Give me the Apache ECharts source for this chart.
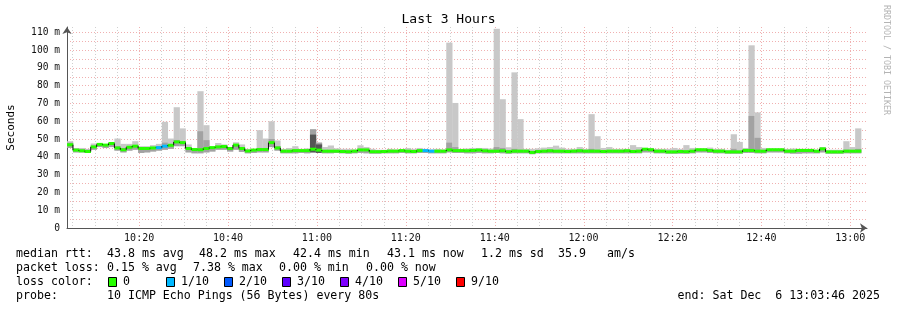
<!DOCTYPE html>
<html><head><meta charset="utf-8">
<script src="https://cdn.jsdelivr.net/npm/echarts@6/dist/echarts.min.js"></script>
<style>html,body{margin:0;padding:0;background:#fff}#c{width:897px;height:310px}</style>
</head><body><div id="c"></div>
<script>
// ---- data ----
const startTime = '10:03:46';
const stepSeconds = 80;
const spanSeconds = 10800;
const tickLabels = ['10:20','10:40','11:00','11:20','11:40','12:00','12:20','12:40','13:00'];
const yTickValues = [0,10,20,30,40,50,60,70,80,90,100,110];

const median = [
 46.8,43.8,43.4,43.0,45.6,47.0,46.6,47.5,45.0,44.0,
 45.4,46.0,44.7,44.7,45.0,45.2,46.0,46.5,48.4,48.0,
 44.7,44.1,44.0,44.7,45.2,45.6,45.8,44.7,46.6,44.7,
 43.3,43.8,44.1,44.1,48.0,45.0,43.2,43.2,43.5,43.5,
 43.5,44.3,43.8,43.2,43.2,43.2,43.0,42.9,43.2,43.9,
 43.9,42.9,42.9,43.0,43.2,43.2,43.5,43.2,43.0,43.5,
 43.5,43.2,43.2,43.2,43.9,43.5,43.5,43.4,43.6,43.8,
 43.4,43.2,43.2,43.4,42.9,43.2,43.2,43.2,42.5,43.0,
 43.2,43.4,43.2,43.2,43.0,43.2,43.4,43.2,43.2,43.2,
 43.0,43.2,43.2,43.2,43.4,43.0,43.2,44.3,44.0,43.2,
 43.2,42.8,42.8,43.0,42.9,43.2,44.0,44.0,43.6,43.2,
 43.2,42.8,42.8,42.8,43.6,43.6,43.2,43.2,44.0,44.0,
 44.0,43.2,43.2,43.6,43.6,43.6,43.2,44.5,42.8,42.8,
 42.8,43.2,43.2,43.2];

const smokeMax = [
 48.8,45.0,45.0,44.5,47.5,47.5,47.0,48.0,50.3,47.3,
 47.3,48.8,46.0,46.0,46.6,47.3,59.7,50.3,67.9,56.0,
 47.0,45.0,76.9,57.8,45.5,47.8,47.0,45.5,48.2,47.0,
 44.5,44.5,55.0,50.3,60.0,49.2,44.5,45.0,46.0,44.5,
 44.8,55.5,48.0,45.5,46.4,44.8,44.5,44.5,44.2,46.5,
 45.5,44.5,44.0,44.0,44.5,44.2,44.2,45.0,44.5,45.0,
 44.5,44.2,44.5,44.2,104.2,70.3,44.5,44.7,45.0,45.0,
 45.0,44.7,112.0,72.4,45.4,87.5,61.2,44.5,44.5,44.8,
 45.2,45.5,46.3,45.2,44.5,44.5,45.5,44.5,64.0,51.6,
 45.0,45.5,44.5,44.5,44.5,46.6,45.5,45.0,45.0,44.5,
 44.5,44.5,45.0,44.5,46.6,45.0,44.5,44.5,45.2,44.5,
 44.5,44.0,52.7,48.4,45.0,102.7,65.0,45.0,44.5,44.5,
 44.5,44.5,44.7,44.5,44.5,44.5,44.0,45.5,44.0,44.0,
 44.0,48.8,45.5,56.0];

const smokeMin = [
 45.0,42.5,42.5,42.2,44.0,45.5,45.0,45.5,43.5,42.5,
 43.5,44.0,42.2,42.5,43.0,43.5,44.0,44.5,46.0,46.0,
 42.5,42.0,42.0,42.5,43.0,44.0,44.0,43.0,44.0,42.8,
 42.0,42.2,42.5,42.5,45.5,43.5,42.0,42.0,42.0,42.2,
 42.0,42.5,42.2,42.0,42.0,42.2,42.0,41.8,42.0,42.2,
 42.0,41.8,41.8,42.0,42.0,42.0,42.2,42.0,42.0,42.2,
 42.2,42.0,42.0,42.0,42.5,42.2,42.2,42.0,42.0,42.2,
 42.0,42.0,42.2,42.0,41.8,42.0,42.0,42.0,41.5,42.0,
 42.0,42.0,42.0,42.0,42.0,42.0,42.0,42.0,42.0,42.0,
 42.0,42.0,42.0,42.0,42.0,42.0,42.0,42.5,42.5,42.0,
 42.0,41.8,41.8,41.8,41.8,42.0,42.5,42.5,42.2,42.0,
 42.0,41.8,41.8,41.8,42.2,42.2,42.0,42.0,42.5,42.5,
 42.5,42.0,41.8,41.8,42.0,42.0,42.0,42.5,41.8,41.8,
 41.8,42.0,42.0,42.0];

const smokeMid = [
 48.0,44.5,44.2,44.0,46.2,47.3,47.0,48.0,46.0,45.0,
 46.0,46.7,45.2,45.2,45.5,46.0,48.0,47.2,49.5,48.6,
 45.5,44.7,54.4,49.4,45.6,46.2,46.4,45.2,47.2,45.3,
 43.8,44.3,45.0,45.0,50.0,46.0,43.8,43.8,44.2,44.0,
 44.0,55.5,48.0,43.8,43.8,43.8,43.6,43.5,43.8,44.5,
 44.5,43.5,43.5,43.5,43.8,43.8,44.0,43.8,43.6,44.0,
 44.0,43.8,43.8,43.8,48.0,45.5,44.0,44.0,44.2,44.5,
 44.0,43.8,45.5,45.0,43.6,44.5,44.0,43.8,43.2,43.6,
 43.8,44.0,43.8,43.8,43.6,43.8,44.0,43.8,44.5,44.0,
 43.6,43.8,43.8,43.8,44.0,43.6,43.8,44.8,44.6,43.8,
 43.8,43.4,43.4,43.6,43.5,43.8,44.5,44.5,44.2,43.8,
 43.8,43.4,44.5,43.4,44.2,63.0,50.7,43.8,44.5,44.5,
 44.5,43.8,43.8,44.2,44.2,44.2,43.8,45.0,43.4,43.4,
 43.4,44.0,43.8,44.5];

const darkSteps = [3, 41, 42];
const darkTop = [43.8, 52.5, 47.0];
const lossSteps = [15, 16, 60, 61];
const lossLevels = [1, 1, 1, 1];

const lossNames = ['0','1/10','2/10','3/10','4/10','5/10','9/10'];
const lossColors = ['#26ff00','#00b8ff','#0059ff','#5e00ff','#7e00ff','#dd00ff','#ff0000'];

// ---- build ----
function toSec(t){ const p = t.split(':').map(Number); return p[0]*3600 + p[1]*60 + (p[2]||0); }
const t0 = toSec(startTime);
const tickPos = tickLabels.map(l => toSec(l) - t0);
const gridData = [];
for (let s = Math.ceil(t0/300)*300; s <= t0 + spanSeconds; s += 300) gridData.push([s - t0, s % 1200 === 0 ? 1 : 0]);

const smokeData = median.map((m, k) => {
  const di = darkSteps.indexOf(k);
  return [k*stepSeconds, (k+1)*stepSeconds, smokeMin[k], smokeMid[k], smokeMax[k], di >= 0 ? darkTop[di] : -1];
});
const medData = median.map((m, k) => {
  const li = lossSteps.indexOf(k);
  return [k*stepSeconds, (k+1)*stepSeconds, m, k > 0 ? median[k-1] : m, li >= 0 ? lossLevels[li] : 0];
});

const FONT = '"DejaVu Sans Mono", monospace';
const chart = echarts.init(document.getElementById('c'), null, {renderer: 'canvas'});

const T = (text, x, y, extra) => Object.assign({type:'text', x, y, silent:true,
  style: {text, font: '11.6px ' + FONT, fill: '#000', verticalAlign: 'middle'}}, extra || {});

const graphics = [
  T('median rtt:', 16, 254), T('43.8 ms avg', 107, 254), T('48.2 ms max', 199, 254),
  T('42.4 ms min', 293, 254), T('43.1 ms now', 387, 254), T('1.2 ms sd', 481, 254),
  T('35.9', 558, 254), T('am/s', 607, 254),
  T('packet loss:', 16, 268), T('0.15 % avg', 107, 268), T('7.38 % max', 193, 268),
  T('0.00 % min', 279, 268), T('0.00 % now', 366, 268),
  T('loss color:', 16, 282),
  T('probe:', 16, 296), T('10 ICMP Echo Pings (56 Bytes) every 80s', 107, 296),
  T('end: Sat Dec  6 13:03:46 2025', 880, 296, {style:{text:'end: Sat Dec  6 13:03:46 2025', font:'11.6px ' + FONT, fill:'#000', verticalAlign:'middle', align:'right'}}),
  {type:'text', x: 886, y: 60, rotation: -Math.PI/2, silent:true,
   style:{text:'RRDTOOL / TOBI OETIKER', font:'8.3px ' + FONT, fill:'#b4b4b4', align:'center', verticalAlign:'middle'}}
];
lossNames.forEach((n, i) => {
  const bx = 108 + i*58;
  graphics.push({type:'rect', shape:{x: bx + 0.5, y: 277.5, width: 8, height: 9}, style:{fill: lossColors[i], stroke:'#000', lineWidth:1}, silent:true});
  graphics.push(T(n, bx + 15, 282));
});

chart.setOption({
  animation: false,
  backgroundColor: '#fff',
  title: {text: 'Last 3 Hours', left: 'center', top: 13, padding: 0,
    textStyle: {fontFamily: FONT, fontSize: 13, fontWeight: 'normal', color: '#000'}},
  grid: {left: 67, right: 30, top: 27, bottom: 82, containLabel: false, outerBoundsMode: 'none'},
  xAxis: {
    type: 'value', min: 0, max: spanSeconds,
    axisLine: {show: true, onZero: false, symbol: ['none','arrow'], symbolSize: [7, 7], lineStyle: {color: '#555', width: 1}},
    axisTick: {show: false, customValues: tickPos},
    splitLine: {show: false},
    axisLabel: {customValues: tickPos, margin: 5, fontFamily: FONT, fontSize: 10, color: '#111',
      formatter: v => { const i = tickPos.indexOf(v); return i >= 0 ? tickLabels[i] : ''; }}
  },
  yAxis: {
    type: 'value', min: 0, max: 113, interval: 5,
    name: 'Seconds', nameLocation: 'middle', nameRotate: 90, nameGap: 50,
    nameTextStyle: {fontFamily: FONT, fontSize: 11, color: '#000'},
    axisLine: {show: true, symbol: ['none','arrow'], symbolSize: [7, 7], lineStyle: {color: '#555', width: 1}},
    axisTick: {show: false},
    splitLine: {show: true, showMinLine: false, showMaxLine: false, lineStyle: {color: '#f0b0b0', width: 1, type: [1, 2]}},
    axisLabel: {margin: 7, fontFamily: FONT, fontSize: 9.6, color: '#111',
      formatter: v => yTickValues.indexOf(v) < 0 ? '' : (v === 0 ? '0' : v + ' m')}
  },
  graphic: graphics,
  series: [
    {
      type: 'custom', name: 'vgrid', z: 1, silent: true,
      data: gridData,
      encode: {x: 0},
      renderItem: (params, api) => {
        const x = api.coord([api.value(0), 0])[0];
        const cs = params.coordSys;
        return {type: 'line', shape: {x1: Math.round(x) + 0.5, y1: cs.y, x2: Math.round(x) + 0.5, y2: cs.y + cs.height},
          style: {stroke: api.value(1) ? '#f0b0b0' : '#cfcfcf', lineWidth: 1, lineDash: [1, 2]}};
      }
    },
    {
      type: 'custom', name: 'smoke', z: 2, silent: true,
      data: smokeData,
      encode: {x: [0, 1], y: [2, 4]},
      renderItem: (params, api) => {
        const s = api.value(0), e = api.value(1);
        const lo = api.value(2), mid = api.value(3), hi = api.value(4), dk = api.value(5);
        const rect = (a, b, color) => {
          const p1 = api.coord([s, b]), p2 = api.coord([e, a]);
          return {type: 'rect', shape: {x: p1[0], y: p1[1], width: p2[0] - p1[0] + 0.3, height: p2[1] - p1[1]}, style: {fill: color}};
        };
        const ch = [rect(lo, hi, '#c8c8c8'), rect(lo, mid, '#a2a2a2')];
        if (dk > 0) ch.push(rect(lo, dk, '#555555'));
        return {type: 'group', children: ch};
      }
    },
    {
      type: 'custom', name: 'median', z: 3, silent: true,
      data: medData,
      encode: {x: [0, 1], y: 2},
      renderItem: (params, api) => {
        const s = api.value(0), e = api.value(1), m = api.value(2), pm = api.value(3), l = api.value(4);
        const a = api.coord([s, m]), b = api.coord([e, m]), c = api.coord([s, pm]);
        return {type: 'group', children: [
          {type: 'rect', shape: {x: a[0], y: a[1] - 1.5, width: b[0] - a[0] + 0.3, height: 3}, style: {fill: lossColors[l]}},
          {type: 'line', shape: {x1: a[0], y1: c[1], x2: a[0], y2: a[1]}, style: {stroke: '#111', lineWidth: 1}}
        ]};
      }
    }
  ]
});
</script></body></html>
